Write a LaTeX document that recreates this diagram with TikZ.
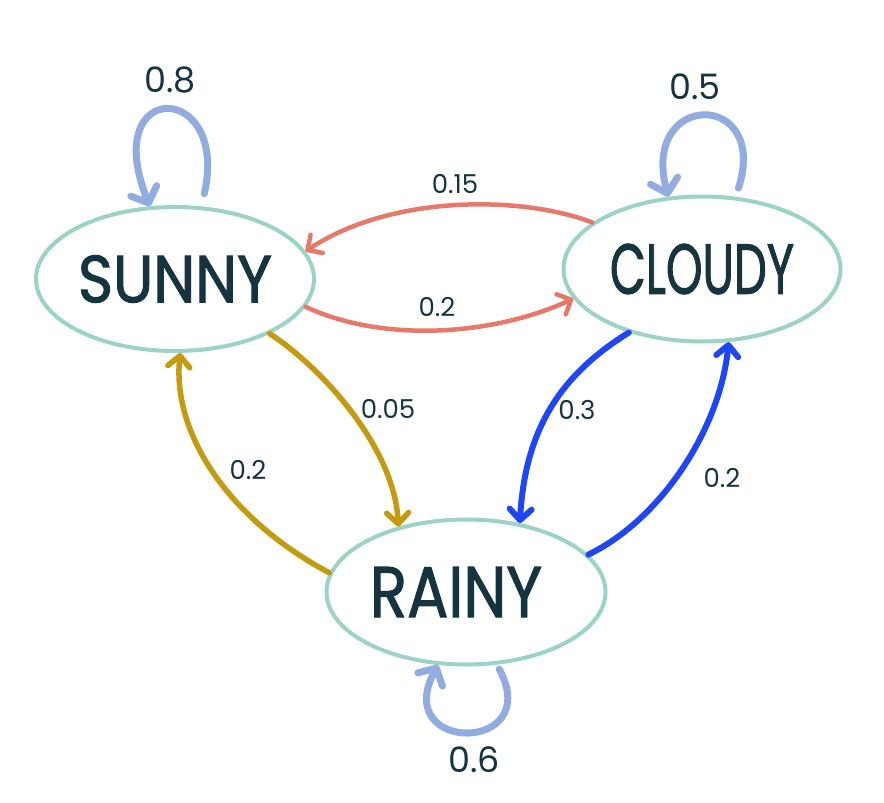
\documentclass[tikz,border=0pt]{standalone}
\usepackage{fontspec}
\usepackage{graphicx}
\setmainfont{Poppins}
\newfontfamily\handbold[FakeBold=1.6]{Poppins}
\usetikzlibrary{arrows.meta,shapes.geometric}
\definecolor{ring}{HTML}{9BD3C7}
\definecolor{ink}{HTML}{163440}
\definecolor{loopblue}{HTML}{93ACE0}
\definecolor{salmon}{HTML}{E8786A}
\definecolor{gold}{HTML}{C39A10}
\definecolor{vivid}{HTML}{1E46F5}
\begin{document}
\begin{tikzpicture}[x=1pt,y=-1pt,
  state/.style={ellipse, draw=ring, line width=4pt, inner sep=0pt, text=ink, font=\handbold},
  loopline/.style={draw=loopblue, line width=7pt, line cap=round,
    -{Straight Barb[length=13pt,width=28pt,round]}},
  redline/.style={draw=salmon, line width=4.5pt, line cap=round,
    -{Straight Barb[length=11pt,width=22pt,round]}},
  goldline/.style={draw=gold, line width=5.5pt, line cap=round,
    -{Straight Barb[length=11pt,width=22pt,round]}},
  blueline/.style={draw=vivid, line width=6pt, line cap=round,
    -{Straight Barb[length=11pt,width=22pt,round]}},
  lab/.style={inner sep=0pt, text=ink, font=\fontsize{26}{26}\selectfont},
  looplab/.style={inner sep=0pt, text=ink, font=\fontsize{35}{35}\selectfont}]
\useasboundingbox[fill=white] (0,0) rectangle (884,803);

\node[state, minimum width=278pt, minimum height=144pt] (S) at (175,279)
  {\resizebox{194pt}{47pt}{SUNNY}};
\node[state, minimum width=277pt, minimum height=145pt] (C) at (702,269)
  {\resizebox{184pt}{50pt}{CLOUDY}};
\node[state, minimum width=279pt, minimum height=145pt] (R) at (466,592)
  {\hspace*{-20pt}\resizebox{172pt}{50pt}{RAINY}};

% self loops
\draw[loopline, shorten <=13pt] (S.70) .. controls (230,80) and (98,78) .. (S.109);
\draw[loopline, shorten <=9pt] (C.65) .. controls (770,90) and (640,90) .. (C.115);
\draw[loopline, shorten <=5pt] (R.-67) .. controls (545,754) and (390,754) .. (R.-111);

% transitions
\draw[redline] (C.157) .. controls (520,195) and (390,195) .. (S.12);
\draw[redline] (S.-12) .. controls (380,342) and (490,337) .. (C.193);
\draw[goldline] (S.-30) .. controls (325,370) and (395,450) .. (R.136);
\draw[goldline] (R.172) .. controls (230,520) and (172,435) .. (S.-86);
\draw[blueline] (C.221) .. controls (560,375) and (525,430) .. (R.52.5);
\draw[blueline] (R.17) .. controls (660,520) and (720,430) .. (C.-70);

% labels
\node[looplab] (lS) at (170,80) {0.8};
\node[looplab] (lC) at (695,87) {0.5};
\node[looplab] (lR) at (474,760) {0.6};
\node[lab] (lCS) at (455,184) {0.15};
\node[lab] (lSC) at (437,307) {0.2};
\node[lab] (lSR) at (388,409) {0.05};
\node[lab] (lRS) at (248,470) {0.2};
\node[lab] (lCR) at (577,410) {0.3};
\node[lab] (lRC) at (722,478) {0.2};
\end{tikzpicture}
\end{document}
